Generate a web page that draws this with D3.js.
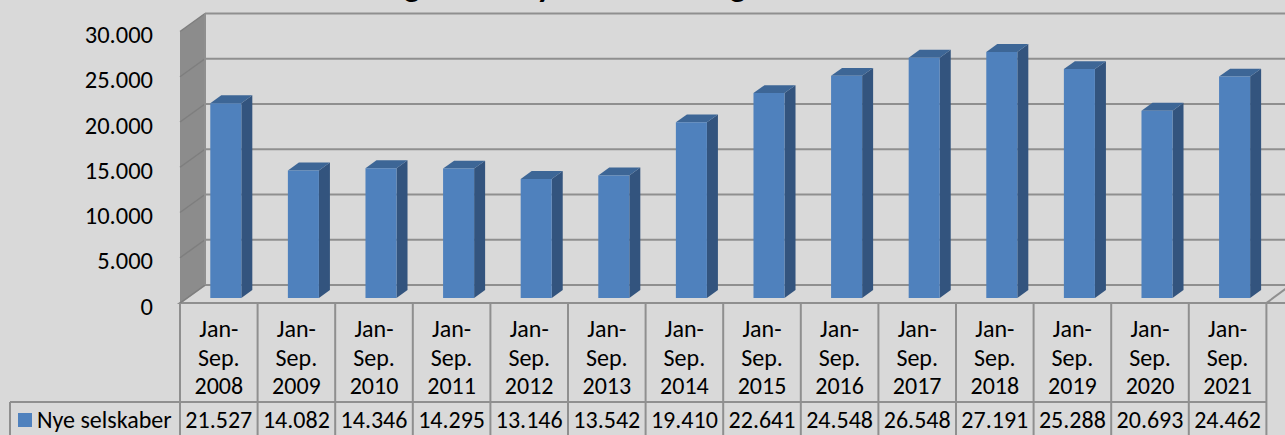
<!DOCTYPE html>
<html>
<head>
<meta charset="utf-8">
<script src="https://cdn.jsdelivr.net/npm/d3@7"></script>
<style>
  html, body { margin: 0; padding: 0; background: #d9d9d9; }
  svg { display: block; font-family: Carlito, Calibri, Lato, sans-serif; }
</style>
</head>
<body>
<div id="chart"></div>
<script>
// data
const periods = ['Jan-Sep. 2008', 'Jan-Sep. 2009', 'Jan-Sep. 2010', 'Jan-Sep. 2011', 'Jan-Sep. 2012',
  'Jan-Sep. 2013', 'Jan-Sep. 2014', 'Jan-Sep. 2015', 'Jan-Sep. 2016', 'Jan-Sep. 2017',
  'Jan-Sep. 2018', 'Jan-Sep. 2019', 'Jan-Sep. 2020', 'Jan-Sep. 2021'];
const nyeSelskaber = [21527, 14082, 14346, 14295, 13146, 13542, 19410, 22641, 24548, 26548,
  27191, 25288, 20693, 24462];
const yTicks = [0, 5000, 10000, 15000, 20000, 25000, 30000];
const seriesName = 'Nye selskaber';
const title = 'Udvikling i antal nye selskaber og virksomheder';

const width = 1285;
const height = 435;

// 3d box: back wall and how far the front is shifted
const depthX = -25;
const depthY = 18;
const barFront = 0.72;
const barBack = 0.28;

const blue = '#4f81bd';
const blueSide = '#33547e';
const blueTop = '#3d6696';
const lineGrey = '#8f8f8f';

const dk = d3.formatLocale({ decimal: ',', thousands: '.', grouping: [3], currency: ['', ''] });
const fmt = dk.format(',d');

const svg = d3.select('#chart')
  .append('svg')
  .attr('width', width)
  .attr('height', height);

svg.append('rect').attr('width', width).attr('height', height).attr('fill', '#d9d9d9');

const x = d3.scaleBand().domain(periods).range([205, 205 + 14 * 77.6]);
const y = d3.scaleLinear().domain([0, 30000]).range([285, 13.5]);

// project a point on the back plane forward by depth d (0 back, 1 front)
function proj(px, py, d) {
  return [px + depthX * d, py + depthY * d];
}

function poly(points) {
  return points.map(p => p.join(',')).join(' ');
}

// title, mostly above the top edge like in the reference
const titleText = svg.append('text')
  .attr('y', -3)
  .attr('font-size', 33)
  .attr('font-weight', 'bold')
  .attr('fill', '#000')
  .text(title);
const gOffset = titleText.node().getSubStringLength(0, 8) + titleText.node().getSubStringLength(8, 1) / 2;
titleText.attr('x', 412 - gOffset);

const x0 = x.range()[0];
const x1 = x.range()[1] + 20;

// back wall
svg.append('rect')
  .attr('x', x0).attr('y', y(30000))
  .attr('width', x1 - x0).attr('height', y(0) - y(30000))
  .attr('fill', '#d9d9d9');

// side wall
svg.append('polygon')
  .attr('points', poly([[x0, y(30000)], [x0, y(0)], proj(x0, y(0), 1), proj(x0, y(30000), 1)]))
  .attr('fill', '#8c8c8c');

// floor
svg.append('polygon')
  .attr('points', poly([[x0, y(0)], [x1, y(0)], proj(x1, y(0), 1), proj(x0, y(0), 1)]))
  .attr('fill', '#d9d9d9')
  .attr('stroke', lineGrey)
  .attr('stroke-width', 2);

// gridlines on back wall and side wall
yTicks.forEach((t) => {
  svg.append('line')
    .attr('x1', x0).attr('x2', x1)
    .attr('y1', y(t)).attr('y2', y(t))
    .attr('stroke', lineGrey).attr('stroke-width', 2);
  const f = proj(x0, y(t), 1);
  svg.append('line')
    .attr('x1', x0).attr('y1', y(t))
    .attr('x2', f[0]).attr('y2', f[1])
    .attr('stroke', '#7e7e7e').attr('stroke-width', 1.5);
});
svg.append('line')
  .attr('x1', x0).attr('x2', x0)
  .attr('y1', y(30000)).attr('y2', y(0))
  .attr('stroke', lineGrey).attr('stroke-width', 2);

// y labels
svg.append('g')
  .selectAll('text')
  .data(yTicks)
  .enter()
  .append('text')
  .attr('x', 153)
  .attr('y', t => y(t) + depthY + 3)
  .attr('dy', '0.35em')
  .attr('text-anchor', 'end')
  .attr('font-size', 24.5)
  .attr('fill', '#000')
  .text(t => fmt(t));

// bars
const bw = x.bandwidth();
const bars = svg.append('g')
  .selectAll('g')
  .data(periods)
  .enter()
  .append('g');

bars.each(function (p, i) {
  const g = d3.select(this);
  const v = nyeSelskaber[i];
  const left = x(p) + bw * 0.3;
  const right = x(p) + bw * 0.7;
  const fTL = proj(left, y(v), barFront);
  const fTR = proj(right, y(v), barFront);
  const fBR = proj(right, y(0), barFront);
  const fBL = proj(left, y(0), barFront);
  const bTL = proj(left, y(v), barBack);
  const bTR = proj(right, y(v), barBack);
  const bBR = proj(right, y(0), barBack);
  g.append('polygon').attr('points', poly([fTR, bTR, bBR, fBR])).attr('fill', blueSide);
  g.append('polygon').attr('points', poly([fTL, fTR, bTR, bTL])).attr('fill', blueTop);
  g.append('polygon').attr('points', poly([fTL, fTR, fBR, fBL])).attr('fill', blue);
});

// data table
const tTop = y(0) + depthY;
const tMid = 402;
const tBot = 437;
const colX = p => x(p) + depthX;
const table = svg.append('g');

table.append('line')
  .attr('x1', 180).attr('x2', colX(periods[13]) + bw)
  .attr('y1', tMid).attr('y2', tMid)
  .attr('stroke', lineGrey).attr('stroke-width', 2);
table.append('line')
  .attr('x1', 10).attr('x2', 180)
  .attr('y1', tMid).attr('y2', tMid)
  .attr('stroke', lineGrey).attr('stroke-width', 2);
table.append('line')
  .attr('x1', 10).attr('x2', 10)
  .attr('y1', tMid).attr('y2', tBot)
  .attr('stroke', lineGrey).attr('stroke-width', 2);

periods.concat(['end']).forEach((p, i) => {
  const cx = 180 + i * bw;
  table.append('line')
    .attr('x1', cx).attr('x2', cx)
    .attr('y1', tTop).attr('y2', tBot)
    .attr('stroke', lineGrey).attr('stroke-width', 2);
});

periods.forEach((p, i) => {
  const cx = colX(p) + bw / 2;
  const lines = ['Jan-', 'Sep.', p.split(' ')[1]];
  const t = table.append('text')
    .attr('text-anchor', 'middle')
    .attr('font-size', 24)
    .attr('fill', '#000');
  lines.forEach((l, k) => {
    t.append('tspan').attr('x', cx).attr('y', 337 + k * 28.5).text(l);
  });
  table.append('text')
    .attr('x', cx).attr('y', 428)
    .attr('text-anchor', 'middle')
    .attr('font-size', 24)
    .attr('fill', '#000')
    .text(fmt(nyeSelskaber[i]));
});

// legend key in the table
table.append('rect')
  .attr('x', 18).attr('y', 413)
  .attr('width', 14).attr('height', 14)
  .attr('fill', blue);
table.append('text')
  .attr('x', 37).attr('y', 428)
  .attr('font-size', 24)
  .attr('fill', '#000')
  .text(seriesName);

// right edge of floor going back
svg.append('line')
  .attr('x1', colX(periods[13]) + bw).attr('y1', tTop)
  .attr('x2', colX(periods[13]) + bw + 30).attr('y2', tTop - 22)
  .attr('stroke', lineGrey).attr('stroke-width', 2);
</script>
</body>
</html>
